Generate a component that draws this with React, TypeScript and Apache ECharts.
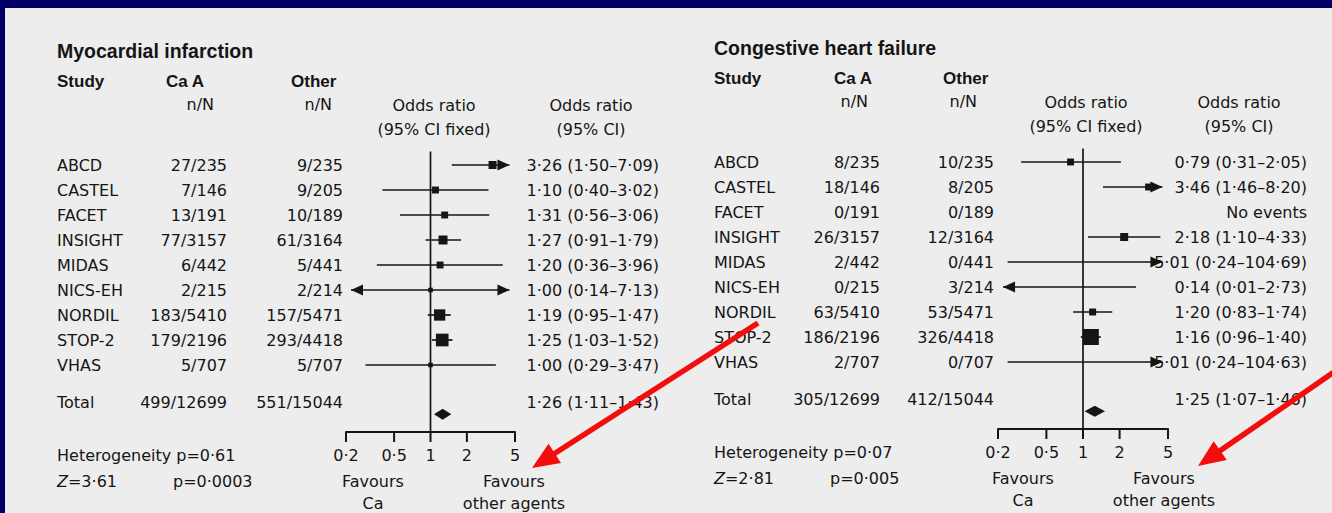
import React, { useEffect, useRef } from 'react';
import * as echarts from 'echarts';

// ---------- data ----------
const STUDIES = ['ABCD', 'CASTEL', 'FACET', 'INSIGHT', 'MIDAS', 'NICS-EH', 'NORDIL', 'STOP-2', 'VHAS'];

// Myocardial infarction
const MI_CA = ['27/235', '7/146', '13/191', '77/3157', '6/442', '2/215', '183/5410', '179/2196', '5/707'];
const MI_OTHER = ['9/235', '9/205', '10/189', '61/3164', '5/441', '2/214', '157/5471', '293/4418', '5/707'];
const MI_OR = [3.26, 1.1, 1.31, 1.27, 1.2, 1.0, 1.19, 1.25, 1.0];
const MI_LO = [1.5, 0.4, 0.56, 0.91, 0.36, 0.14, 0.95, 1.03, 0.29];
const MI_HI = [7.09, 3.02, 3.06, 1.79, 3.96, 7.13, 1.47, 1.52, 3.47];
const MI_WEIGHT = [4, 3, 3, 5, 3, 1.3, 8, 10, 1.3];
const MI_TOTAL_COUNTS = ['499/12699', '551/15044'];
const MI_TOTAL = [1.26, 1.11, 1.43];
const MI_STATS = ['0·61', '3·61', '0·0003'];

// Congestive heart failure
const CHF_CA = ['8/235', '18/146', '0/191', '26/3157', '2/442', '0/215', '63/5410', '186/2196', '2/707'];
const CHF_OTHER = ['10/235', '8/205', '0/189', '12/3164', '0/441', '3/214', '53/5471', '326/4418', '0/707'];
const CHF_OR = [0.79, 3.46, null, 2.18, 5.01, 0.14, 1.2, 1.16, 5.01];
const CHF_LO = [0.31, 1.46, null, 1.1, 0.24, 0.01, 0.83, 0.96, 0.24];
const CHF_HI = [2.05, 8.2, null, 4.33, 104.69, 2.73, 1.74, 1.4, 104.63];
const CHF_WEIGHT = [3, 3, 0, 4, 0, 0, 3, 16, 0];
const CHF_TOTAL_COUNTS = ['305/12699', '412/15044'];
const CHF_TOTAL = [1.25, 1.07, 1.46];
const CHF_STATS = ['0·07', '2·81', '0·005'];

const TICK_VALUES = [0.2, 0.5, 1, 2, 5];
const TICK_LABELS = ['0·2', '0·5', '1', '2', '5'];
const REF_VALUE = 1;

// ---------- style / layout ----------
const INK = '#151515';
const BG = '#ededed';
const NAVY = '#000066';
const RED = '#f40d0d';
const FONT = '"DejaVu Sans", Verdana, sans-serif';
const BOLD_FONT = '"Liberation Sans", Arial, Helvetica, sans-serif';
const FS = 16;
const AXIS_MIN = 0.2;
const AXIS_MAX = 5;
const ARROW_MIN = 0.22;
const ARROW_MAX = 4.5;
const ROW_MIN = -0.54;
const ROW_MAX = 10.68;
const TOTAL_ROW = 9.5;
const DIAMOND_ROW = 9.97;

const fmt = (v: number) => v.toFixed(2).replace('.', '·');
const ciText = (or: number | null, lo: number | null, hi: number | null) =>
  or == null || lo == null || hi == null ? 'No events' : `${fmt(or)} (${fmt(lo)}–${fmt(hi)})`;

interface Panel {
  title: string;
  ca: string[];
  other: string[];
  or: (number | null)[];
  lo: (number | null)[];
  hi: (number | null)[];
  weight: number[];
  totalCounts: string[];
  total: number[];
  stats: string[];
  gridLeft: number;
  gridTop: number;
  gridWidth: number;
  nameX: number;
  caRight: number;
  otherRight: number;
  orRight: number;
  dy: number;
  caHeadX: number;
  otherHeadX: number;
  nnCa: number;
  nnOther: number;
  orHead1: number;
  orHead2: number;
  pX: number;
  favCa: number;
  favOther: number;
}

const PANELS: Panel[] = [
  {
    title: 'Myocardial infarction',
    ca: MI_CA, other: MI_OTHER, or: MI_OR, lo: MI_LO, hi: MI_HI, weight: MI_WEIGHT,
    totalCounts: MI_TOTAL_COUNTS, total: MI_TOTAL, stats: MI_STATS,
    gridLeft: 346, gridTop: 151.5, gridWidth: 169,
    nameX: 57, caRight: 227, otherRight: 343, orRight: 659, dy: 0,
    caHeadX: 166, otherHeadX: 291, nnCa: 214, nnOther: 332, orHead1: 434, orHead2: 591,
    pX: 173, favCa: 373, favOther: 514,
  },
  {
    title: 'Congestive heart failure',
    ca: CHF_CA, other: CHF_OTHER, or: CHF_OR, lo: CHF_LO, hi: CHF_HI, weight: CHF_WEIGHT,
    totalCounts: CHF_TOTAL_COUNTS, total: CHF_TOTAL, stats: CHF_STATS,
    gridLeft: 998, gridTop: 148.5, gridWidth: 170,
    nameX: 714, caRight: 880, otherRight: 994, orRight: 1307, dy: -3,
    caHeadX: 834, otherHeadX: 943, nnCa: 868, nnOther: 977, orHead1: 1086, orHead2: 1239,
    pX: 830, favCa: 1023, favOther: 1164,
  },
];

const txt = (x: number, y: number, text: string, align = 'left', extra: any = {}) => ({
  type: 'text',
  style: {
    x, y, text, fill: INK, fontSize: FS, fontFamily: FONT, align, verticalAlign: 'middle', ...extra,
  },
});

function arrowHead(tipX: number, y: number, dir: number) {
  return {
    type: 'polygon',
    shape: { points: [[tipX, y], [tipX - dir * 12, y - 5.5], [tipX - dir * 12, y + 5.5]] },
    style: { fill: INK },
  };
}

function buildOption() {
  const grid: any[] = [];
  const xAxis: any[] = [];
  const yAxis: any[] = [];
  const series: any[] = [];
  const graphic: any[] = [];

  graphic.push({ type: 'rect', z: -10, shape: { x: 0, y: 0, width: 1332, height: 8 }, style: { fill: NAVY } });
  graphic.push({ type: 'rect', z: -10, shape: { x: 0, y: 0, width: 5, height: 513 }, style: { fill: NAVY } });

  PANELS.forEach((P, pi) => {
    grid.push({ left: P.gridLeft, top: P.gridTop, width: P.gridWidth, height: (ROW_MAX - ROW_MIN) * 25 });
    xAxis.push({
      type: 'log', logBase: 10, min: AXIS_MIN, max: AXIS_MAX, gridIndex: pi,
      axisLine: { show: true, onZero: false, lineStyle: { color: INK, width: 2 } },
      axisTick: { show: false }, axisLabel: { show: false }, splitLine: { show: false },
    });
    yAxis.push({ type: 'value', min: ROW_MIN, max: ROW_MAX, inverse: true, gridIndex: pi, show: false });

    // study rows
    series.push({
      type: 'custom', xAxisIndex: pi, yAxisIndex: pi, clip: false, silent: true,
      encode: { x: 5, y: 0 },
      data: STUDIES.map((_, i) => [
        i,
        P.or[i] == null ? NaN : P.or[i],
        P.lo[i] == null ? NaN : P.lo[i],
        P.hi[i] == null ? NaN : P.hi[i],
        P.weight[i],
        REF_VALUE,
      ]),
      renderItem: (params: any, api: any) => {
        const i = params.dataIndex;
        const row = api.value(0);
        const or = api.value(1);
        const lo = api.value(2);
        const hi = api.value(3);
        const w = api.value(4);
        const y = api.coord([REF_VALUE, row])[1];
        const children: any[] = [
          txt(P.nameX, y, STUDIES[i]),
          txt(P.caRight, y, P.ca[i], 'right'),
          txt(P.otherRight, y, P.other[i], 'right'),
          txt(P.orRight, y, ciText(P.or[i], P.lo[i], P.hi[i]), 'right'),
        ];
        if (isFinite(lo) && isFinite(hi)) {
          const x1 = api.coord([Math.max(lo, ARROW_MIN), row])[0];
          const x2 = api.coord([Math.min(hi, ARROW_MAX), row])[0];
          children.push({ type: 'line', shape: { x1, y1: y, x2, y2: y }, style: { stroke: INK, lineWidth: 1.7 } });
          if (lo < ARROW_MIN) children.push(arrowHead(x1, y, -1));
          if (hi > ARROW_MAX) children.push(arrowHead(x2, y, 1));
        }
        if (isFinite(or) && or >= AXIS_MIN && or <= AXIS_MAX && w > 0) {
          const cx = api.coord([or, row])[0];
          const s = 4 * Math.sqrt(w);
          children.push({ type: 'rect', shape: { x: cx - s / 2, y: y - s / 2, width: s, height: s }, style: { fill: INK } });
        }
        return { type: 'group', children };
      },
    });

    // total row
    series.push({
      type: 'custom', xAxisIndex: pi, yAxisIndex: pi, clip: false, silent: true,
      encode: { x: 0, y: 3 },
      data: [[P.total[0], P.total[1], P.total[2], TOTAL_ROW]],
      renderItem: (params: any, api: any) => {
        const or = api.value(0);
        const lo = api.value(1);
        const hi = api.value(2);
        const yT = api.coord([or, api.value(3)])[1];
        const yD = api.coord([or, DIAMOND_ROW])[1];
        const xo = api.coord([or, DIAMOND_ROW])[0];
        const xl = api.coord([lo, DIAMOND_ROW])[0];
        const xh = api.coord([hi, DIAMOND_ROW])[0];
        return {
          type: 'group',
          children: [
            txt(P.nameX, yT, 'Total'),
            txt(P.caRight, yT, P.totalCounts[0], 'right'),
            txt(P.otherRight, yT, P.totalCounts[1], 'right'),
            txt(P.orRight, yT, ciText(P.total[0], P.total[1], P.total[2]), 'right'),
            { type: 'polygon', shape: { points: [[xl - 2, yD], [xo, yD - 5.5], [xh + 2, yD], [xo, yD + 5.5]] }, style: { fill: INK } },
          ],
        };
      },
    });

    // scale ticks + reference line
    series.push({
      type: 'custom', xAxisIndex: pi, yAxisIndex: pi, clip: false, silent: true,
      encode: { x: 0, y: 1 },
      data: TICK_VALUES.map((v) => [v, 0]),
      renderItem: (params: any, api: any) => {
        const v = api.value(0);
        const x = api.coord([v, 0])[0];
        const cs = params.coordSys;
        const bottom = cs.y + cs.height;
        const children: any[] = [
          { type: 'line', shape: { x1: x, y1: bottom, x2: x, y2: bottom + 10 }, style: { stroke: INK, lineWidth: 2 } },
          txt(x, bottom + 23, TICK_LABELS[params.dataIndex], 'center'),
        ];
        if (v === REF_VALUE) {
          children.push({ type: 'line', shape: { x1: x, y1: cs.y, x2: x, y2: bottom }, style: { stroke: INK, lineWidth: 1.7 } });
        }
        return { type: 'group', children };
      },
    });

    // headers & footers
    const d = P.dy;
    const g = (x: number, y: number, text: string, align = 'left', extra: any = {}) => ({
      type: 'text', z: 5,
      style: { x, y, text, fill: INK, fontSize: FS, fontFamily: FONT, align, verticalAlign: 'middle', ...extra },
    });
    const bold = { fontWeight: 'bold', fontFamily: BOLD_FONT, fontSize: 17 };
    graphic.push(g(P.nameX, 51 + d, P.title, 'left', { fontWeight: 'bold', fontFamily: BOLD_FONT, fontSize: 19.5 }));
    graphic.push(g(P.nameX, 81 + d, 'Study', 'left', bold));
    graphic.push(g(P.caHeadX, 81 + d, 'Ca A', 'left', bold));
    graphic.push(g(P.otherHeadX, 81 + d, 'Other', 'left', bold));
    graphic.push(g(P.nnCa, 104 + d, 'n/N', 'right'));
    graphic.push(g(P.nnOther, 104 + d, 'n/N', 'right'));
    graphic.push(g(P.orHead1, 105 + d, 'Odds ratio', 'center'));
    graphic.push(g(P.orHead1, 129 + d, '(95% CI fixed)', 'center'));
    graphic.push(g(P.orHead2, 105 + d, 'Odds ratio', 'center'));
    graphic.push(g(P.orHead2, 129 + d, '(95% CI)', 'center'));
    graphic.push(g(P.nameX, 455 + d, `Heterogeneity p=${P.stats[0]}`));
    graphic.push({
      type: 'text', z: 5,
      style: {
        x: P.nameX, y: 481 + d, text: `{i|Z}=${P.stats[1]}`, fill: INK, fontSize: FS, fontFamily: FONT,
        verticalAlign: 'middle', rich: { i: { fontStyle: 'italic', fontSize: FS, fontFamily: FONT, fill: INK } },
      },
    });
    graphic.push(g(P.pX, 481 + d, `p=${P.stats[2]}`));
    graphic.push(g(P.favCa, 481 + d, 'Favours', 'center'));
    graphic.push(g(P.favCa, 503 + d, 'Ca', 'center'));
    graphic.push(g(P.favOther, 481 + d, 'Favours', 'center'));
    graphic.push(g(P.favOther, 503 + d, 'other agents', 'center'));
  });

  // red annotation arrows
  const redArrow = (sx: number, sy: number, tx: number, ty: number) => {
    const dx = tx - sx, dy = ty - sy;
    const len = Math.hypot(dx, dy);
    const ux = dx / len, uy = dy / len;
    const hl = 27, hw = 11.5;
    const bx = tx - ux * hl, by = ty - uy * hl;
    const nx = -uy, ny = ux;
    graphic.push({ type: 'line', z: 50, shape: { x1: sx, y1: sy, x2: bx + ux * 2, y2: by + uy * 2 }, style: { stroke: RED, lineWidth: 5.5 } });
    graphic.push({
      type: 'polygon', z: 50,
      shape: { points: [[tx, ty], [bx + nx * hw, by + ny * hw], [bx - nx * hw, by - ny * hw]] },
      style: { fill: RED },
    });
  };
  redArrow(758, 323, 532, 468);
  redArrow(1334, 372, 1198, 466);

  return {
    animation: false,
    backgroundColor: BG,
    grid, xAxis, yAxis, series, graphic,
  };
}

export default function App() {
  const ref = useRef<HTMLDivElement>(null);
  useEffect(() => {
    document.body.style.margin = '0';
    const chart = echarts.init(ref.current!, undefined, { renderer: 'svg' });
    chart.setOption(buildOption() as any);
    return () => chart.dispose();
  }, []);
  return <div ref={ref} style={{ width: 1332, height: 513 }} />;
}
